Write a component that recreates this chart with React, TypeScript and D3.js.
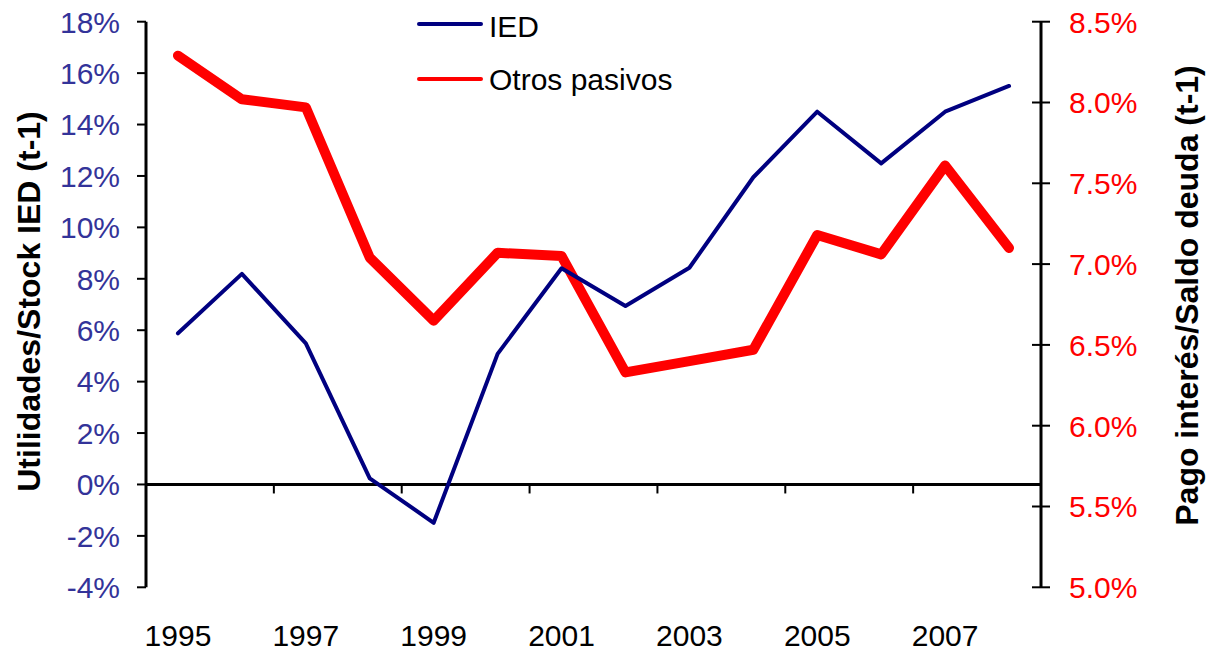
import React from "react";
import * as d3 from "d3";

const years = [1995, 1996, 1997, 1998, 1999, 2000, 2001, 2002, 2003, 2004, 2005, 2006, 2007, 2008];
const iedValues = [5.88, 8.19, 5.49, 0.24, -1.49, 5.08, 8.41, 6.94, 8.43, 11.95, 14.5, 12.49, 14.5, 15.5];
const otrosValues = [8.29, 8.02, 7.97, 7.04, 6.65, 7.07, 7.05, 6.33, 6.4, 6.47, 7.18, 7.06, 7.61, 7.1];
const leftTicks = [-4, -2, 0, 2, 4, 6, 8, 10, 12, 14, 16, 18];
const rightTicks = [5.0, 5.5, 6.0, 6.5, 7.0, 7.5, 8.0, 8.5];
const xLabelYears = [1995, 1997, 1999, 2001, 2003, 2005, 2007];
const seriesNames = ["IED", "Otros pasivos"];
const leftTitle = "Utilidades/Stock IED (t-1)";
const rightTitle = "Pago interés/Saldo deuda (t-1)";

const W = 1207;
const H = 653;
const plotL = 146;
const plotR = 1041;
const plotT = 21.7;
const plotB = 587.3;
const NAVY = "#000080";
const RED = "#FF0000";
const LEFT_LABEL = "#333399";
const FONT = "Arial, 'Liberation Sans', sans-serif";

export default function App() {
  const x = d3.scaleBand<number>().domain(years).range([plotL, plotR]).paddingInner(0).paddingOuter(0);
  const yL = d3.scaleLinear().domain([-4, 18]).range([plotB, plotT]);
  const yR = d3.scaleLinear().domain([5, 8.5]).range([plotB, plotT]);
  const cx = (yr: number) => (x(yr) as number) + x.bandwidth() / 2;

  const iedLine = d3
    .line<number>()
    .x((_, i) => cx(years[i]))
    .y((v) => yL(v))(iedValues) as string;
  const otrosLine = d3
    .line<number>()
    .x((_, i) => cx(years[i]))
    .y((v) => yR(v))(otrosValues) as string;

  const zeroY = yL(0);
  const xTickIdx = years.map((_, i) => i).filter((i) => i > 0 && i % 2 === 0);

  return (
    <svg width={W} height={H} style={{ position: "absolute", left: 0, top: 0, background: "#fff" }} fontFamily={FONT}>
      <rect x={0} y={0} width={W} height={H} fill="#fff" />
      {/* left axis */}
      <line x1={plotL} x2={plotL} y1={plotT} y2={plotB} stroke="#000" strokeWidth={3} />
      {leftTicks.map((t) => (
        <g key={"lt" + t}>
          <line x1={plotL - 9} x2={plotL} y1={yL(t)} y2={yL(t)} stroke="#000" strokeWidth={2} />
          <text x={120} y={yL(t)} dy="0.36em" textAnchor="end" fontSize={30} fill={LEFT_LABEL}>
            {t + "%"}
          </text>
        </g>
      ))}
      {/* right axis */}
      <line x1={plotR} x2={plotR} y1={plotT} y2={plotB} stroke="#000" strokeWidth={3} />
      {rightTicks.map((t) => (
        <g key={"rt" + t}>
          <line x1={plotR - 9} x2={plotR + 9} y1={yR(t)} y2={yR(t)} stroke="#000" strokeWidth={2} />
          <text x={1069} y={yR(t)} dy="0.36em" textAnchor="start" fontSize={30} fill={RED}>
            {t.toFixed(1) + "%"}
          </text>
        </g>
      ))}
      {/* zero line / category axis */}
      <line x1={plotL} x2={plotR} y1={zeroY} y2={zeroY} stroke="#000" strokeWidth={3} />
      {xTickIdx.map((i) => (
        <line key={"xt" + i} x1={x(years[i])} x2={x(years[i])} y1={zeroY} y2={zeroY + 9} stroke="#000" strokeWidth={2} />
      ))}
      {xLabelYears.map((yr) => (
        <text key={"xl" + yr} x={cx(yr)} y={646} textAnchor="middle" fontSize={30} fill="#000">
          {yr}
        </text>
      ))}
      {/* series */}
      <path d={otrosLine} fill="none" stroke={RED} strokeWidth={10} strokeLinejoin="round" strokeLinecap="round" />
      <path d={iedLine} fill="none" stroke={NAVY} strokeWidth={4} strokeLinejoin="round" strokeLinecap="round" />
      {/* legend */}
      <line x1={419} x2={481} y1={24} y2={24} stroke={NAVY} strokeWidth={4} strokeLinecap="round" />
      <text x={489} y={36.5} fontSize={30} fill="#000">
        {seriesNames[0]}
      </text>
      <line x1={419} x2={481} y1={79} y2={79} stroke={RED} strokeWidth={4} strokeLinecap="round" />
      <text x={489} y={90} fontSize={30} fill="#000">
        {seriesNames[1]}
      </text>
      {/* axis titles */}
      <text
        transform={`translate(40, 301.5) rotate(-90)`}
        textAnchor="middle"
        fontSize={32}
        fontWeight="bold"
        fill="#000"
      >
        {leftTitle}
      </text>
      <text
        transform={`translate(1198, 295.5) rotate(-90)`}
        textAnchor="middle"
        fontSize={32}
        fontWeight="bold"
        fill="#000"
      >
        {rightTitle}
      </text>
    </svg>
  );
}
